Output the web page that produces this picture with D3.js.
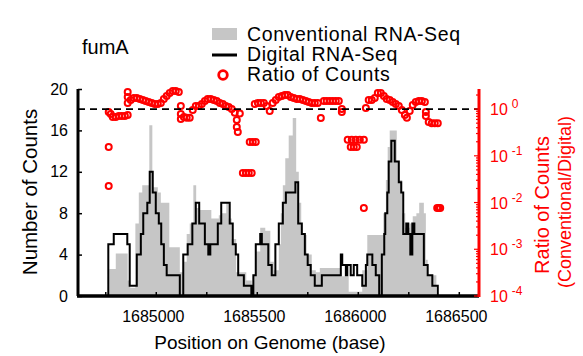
<!DOCTYPE html>
<html>
<head>
<meta charset="utf-8">
<script src="https://cdn.jsdelivr.net/npm/d3@7"></script>
<style>
  html, body { margin: 0; padding: 0; background: #fff; }
  svg { display: block; font-family: "Liberation Sans", Arial, sans-serif; }
</style>
</head>
<body>
<svg id="chart" width="583" height="356"></svg>
<script>
// ---------------- data ----------------
const geneName = "fumA";
const xTickValues = [1685000, 1685500, 1686000, 1686500];
const xMinorTicks = [1684750, 1685000, 1685250, 1685500, 1685750, 1686000, 1686250, 1686500];
const yCountTicks = [0, 4, 8, 12, 16, 20];
const yRatioExponents = [0, -1, -2, -3, -4];

// Conventional RNA-Seq (step histogram): change positions and counts
const convPos = [1684700, 1684770, 1684802, 1684861, 1684874, 1684899, 1684916, 1684933, 1684968, 1684983,
  1685010, 1685025, 1685067, 1685119, 1685139, 1685153, 1685168, 1685186, 1685200, 1685218,
  1685275, 1685312, 1685327, 1685349, 1685361, 1685376, 1685398, 1685448, 1685475, 1685485,
  1685493, 1685517, 1685542, 1685567, 1685584, 1685609, 1685619, 1685629, 1685641, 1685658,
  1685678, 1685695, 1685708, 1685720, 1685747, 1685772, 1685792, 1685812, 1685916, 1685955,
  1686022, 1686047, 1686126, 1686139, 1686148, 1686158, 1686193, 1686205, 1686220, 1686235,
  1686257, 1686272, 1686290, 1686304, 1686327, 1686337, 1686346, 1686389, 1686450];
const convVal = [0, 2.6, 4.1, 1.5, 0.8, 7, 10, 10.7, 16.5, 10.5,
  10, 9, 4.7, 2.3, 3.3, 6, 7, 10.7, 8.5, 8.3,
  7.5, 7.8, 8, 9, 7.5, 5.5, 2.3, 1.5, 1, 2,
  4.3, 6.6, 6.3, 3.3, 2.5, 5, 8, 10.7, 13.3, 15.5,
  17.2, 12, 9, 5.9, 4, 2.5, 2.3, 2.7, 1.9, 0.4,
  2.5, 5.9, 8, 11.2, 14.4, 16, 13, 11.2, 8, 6.6,
  7, 7.7, 8, 9, 8, 3.5, 2, 0, 0];

// Digital RNA-Seq (step line): change positions and counts
const digiPos = [1684700, 1684765, 1684792, 1684859, 1684871, 1684906, 1684926, 1684938, 1684958, 1684970,
  1684985, 1685000, 1685015, 1685027, 1685040, 1685054, 1685119, 1685136, 1685158, 1685181,
  1685198, 1685215, 1685243, 1685260, 1685270, 1685307, 1685324, 1685366, 1685381, 1685396,
  1685408, 1685436, 1685473, 1685483, 1685495, 1685517, 1685525, 1685557, 1685574, 1685592,
  1685609, 1685629, 1685644, 1685691, 1685705, 1685723, 1685738, 1685752, 1685767, 1685787,
  1685822, 1685916, 1685923, 1685941, 1685948, 1685965, 1685980, 1685997, 1686022, 1686040,
  1686047, 1686072, 1686089, 1686106, 1686119, 1686131, 1686136, 1686146, 1686153, 1686166,
  1686183, 1686203, 1686215, 1686225, 1686240, 1686250, 1686260, 1686270, 1686280, 1686327,
  1686346, 1686369, 1686396, 1686450];
const digiVal = [0, 5, 6, 5, 1, 4, 6, 8, 9, 12,
  10, 8, 7, 5, 3, 2, 0, 4, 5, 7,
  9, 7, 5, 4, 5, 7, 9, 7, 5, 4,
  2, 1, 0, 2, 5, 6, 5, 3, 2, 5,
  7, 9, 10, 11, 7, 6, 4, 3, 2, 1,
  2, 4, 3, 2, 3, 2, 3, 2, 1, 3,
  4, 3, 2, 0, 4, 6, 8, 10, 13, 15,
  13, 11, 10, 6, 7, 6, 4, 7, 6, 3,
  2, 1, 0, 0];

// Ratio of counts (Conventional / Digital)
const ratioPos = [1684767, 1684767, 1684767, 1684777, 1684787, 1684802, 1684817, 1684832, 1684847, 1684861,
  1684861, 1684861, 1684861, 1684876, 1684891, 1684906, 1684921, 1684936, 1684950, 1684965,
  1684980, 1684995, 1685010, 1685025, 1685040, 1685054, 1685069, 1685084, 1685099, 1685114,
  1685124, 1685124, 1685124, 1685139, 1685153, 1685168, 1685183, 1685198, 1685213, 1685228,
  1685243, 1685257, 1685272, 1685287, 1685302, 1685317, 1685332, 1685347, 1685361, 1685376,
  1685391, 1685401, 1685401, 1685406, 1685416, 1685431, 1685446, 1685460, 1685475, 1685465,
  1685480, 1685495, 1685490, 1685505, 1685520, 1685535, 1685549, 1685564, 1685579, 1685594,
  1685609, 1685624, 1685639, 1685653, 1685668, 1685683, 1685698, 1685713, 1685728, 1685743,
  1685757, 1685772, 1685787, 1685802, 1685817, 1685832, 1685846, 1685861, 1685876, 1685891,
  1685906, 1685921, 1685921, 1685950, 1685970, 1685990, 1686010, 1686030, 1685965, 1685980,
  1685995, 1686030, 1686040, 1686054, 1686069, 1686084, 1686099, 1686114, 1686129, 1686143,
  1686158, 1686173, 1686188, 1686203, 1686218, 1686233, 1686243, 1686257, 1686272, 1686287,
  1686302, 1686317, 1686332, 1686337, 1686337, 1686351, 1686366, 1686381, 1686396, 1686393,
  1686401, 1686408];
const ratioVal = [0.87, 0.155, 0.0226, 0.79, 0.68, 0.68, 0.71, 0.71, 0.71, 0.75,
  2.32, 1.82, 1.35, 1.57, 1.73, 1.73, 1.64, 1.57, 1.49, 1.42,
  1.35, 1.29, 1.29, 1.35, 1.64, 1.91, 2.21, 2.44, 2.44, 2.32,
  1.16, 0.785, 0.614, 0.68, 0.65, 0.65, 0.96, 1.16, 1.16, 1.29,
  1.49, 1.64, 1.64, 1.57, 1.49, 1.35, 1.29, 1.16, 1.11, 1.0,
  0.83, 0.585, 0.414, 0.324, 0.8, 0.043, 0.043, 0.043, 0.043, 0.198,
  0.198, 0.198, 1.29, 1.35, 1.35, 1.35, 1.16, 0.91, 1.35, 1.57,
  1.82, 1.91, 2.0, 2.0, 1.82, 1.73, 1.64, 1.64, 1.57, 1.49,
  1.42, 1.35, 1.35, 1.35, 0.645, 1.49, 1.49, 1.49, 1.49, 1.49,
  1.49, 1.0, 0.87, 0.22, 0.22, 0.22, 0.22, 0.22, 0.155, 0.155,
  0.155, 0.0076, 1.06, 1.57, 1.57, 1.73, 2.21, 2.21, 1.91, 1.64,
  1.57, 1.42, 1.29, 1.16, 0.96, 0.75, 0.65, 0.91, 1.22, 1.42,
  1.49, 1.49, 1.42, 0.87, 0.71, 0.53, 0.5, 0.5, 0.5, 0.0076,
  0.0076, 0.0076];

const legendLabels = ["Conventional RNA-Seq", "Digital RNA-Seq", "Ratio of Counts"];

// ---------------- chart ----------------
const svg = d3.select("#chart");
const red = "#ff0000";
const gray = "#c6c6c6";
const pLeft = 78, pRight = 479, pTop = 89, pBottom = 296;

const x = d3.scaleLinear().domain([1684615, 1686600]).range([pLeft, pRight]);
const y = d3.scaleLinear().domain([0, 20]).range([pBottom, pTop]);
const yr = d3.scaleLog().domain([1e-4, Math.pow(10, 0.43)]).range([pBottom, pTop]);

svg.append("rect").attr("width", 583).attr("height", 356).attr("fill", "#fff");

const conv = convPos.map((p, i) => ({p, v: convVal[i]}));
const digi = digiPos.map((p, i) => ({p, v: digiVal[i]}));
const ratio = ratioPos.map((p, i) => ({p, r: ratioVal[i]}));

// gray histogram
svg.append("path").datum(conv)
  .attr("fill", gray)
  .attr("d", d3.area().curve(d3.curveStepAfter)
    .x(d => x(d.p)).y0(y(0)).y1(d => y(d.v)));

// black step line
svg.append("path").datum(digi)
  .attr("fill", "none").attr("stroke", "#000").attr("stroke-width", 2)
  .attr("stroke-linejoin", "miter")
  .attr("d", d3.line().curve(d3.curveStepAfter).x(d => x(d.p)).y(d => y(d.v)));

// red ratio circles
svg.append("g").selectAll("circle").data(ratio).join("circle")
  .attr("cx", d => x(d.p)).attr("cy", d => yr(d.r)).attr("r", 3)
  .attr("fill", "none").attr("stroke", red).attr("stroke-width", 2);

// dashed reference line at ratio 1
svg.append("line")
  .attr("x1", pLeft).attr("x2", pRight).attr("y1", yr(1)).attr("y2", yr(1))
  .attr("stroke", "#000").attr("stroke-width", 1.6).attr("stroke-dasharray", "7,5");

// left axis
const gL = svg.append("g").attr("transform", `translate(${pLeft},0)`)
  .call(d3.axisLeft(y).tickValues(yCountTicks).tickSize(-4).tickPadding(10).tickFormat(d3.format("d")));
gL.select(".domain").attr("stroke", "#000").attr("stroke-width", 3).attr("d", `M0,${pTop}V${pBottom}`);
gL.selectAll(".tick line").attr("stroke", "#000").attr("stroke-width", 1.5);
gL.selectAll(".tick text").attr("font-size", 16).attr("fill", "#000").attr("font-family", "Liberation Sans, Arial, sans-serif");

// bottom axis
const gB = svg.append("g").attr("transform", `translate(0,${pBottom})`)
  .call(d3.axisBottom(x).tickValues(xMinorTicks).tickSize(-4).tickFormat(""));
gB.select(".domain").attr("stroke", "#000").attr("stroke-width", 3.5).attr("d", `M${pLeft - 1},0H${pRight}`);
gB.selectAll(".tick line").attr("stroke", "#000").attr("stroke-width", 1.5);
const gBL = svg.append("g").attr("transform", `translate(0,${pBottom})`)
  .call(d3.axisBottom(x).tickValues(xTickValues).tickSize(0).tickPadding(15).tickFormat(d3.format("d")));
gBL.select(".domain").remove();
gBL.selectAll(".tick text").attr("font-size", 16).attr("fill", "#000").attr("dx", -3)
  .attr("font-family", "Liberation Sans, Arial, sans-serif");

// right axis (log)
const gR = svg.append("g").attr("transform", `translate(${pRight},0)`);
const minorVals = [];
for (let e = -4; e <= 0; e++) for (let m = 1; m <= 9; m++) {
  const v = m * Math.pow(10, e);
  if (v <= yr.domain()[1]) minorVals.push(v);
}
gR.selectAll("line.mt").data(minorVals).join("line")
  .attr("x1", 0).attr("x2", d => Math.abs(Math.log10(d) - Math.round(Math.log10(d))) < 1e-9 ? -5 : -3)
  .attr("y1", d => yr(d)).attr("y2", d => yr(d))
  .attr("stroke", red).attr("stroke-width", 1.2);
gR.append("line").attr("x1", 0).attr("x2", 0).attr("y1", pTop).attr("y2", pBottom + 1)
  .attr("stroke", red).attr("stroke-width", 3);
const lab = gR.selectAll("text.rl").data(yRatioExponents).join("text")
  .attr("x", 11).attr("y", d => yr(Math.pow(10, d)) + 6)
  .attr("fill", red).attr("font-size", 16);
lab.append("tspan").text("10");
lab.append("tspan").attr("dx", 4).attr("dy", -7).attr("font-size", 12).text(d => d);

// axis titles
svg.append("text").attr("transform", "translate(37,192) rotate(-90)")
  .attr("text-anchor", "middle").attr("font-size", 20.5).attr("fill", "#000").text("Number of Counts");
svg.append("text").attr("x", 270).attr("y", 349)
  .attr("text-anchor", "middle").attr("font-size", 19).attr("fill", "#000").text("Position on Genome (base)");
svg.append("text").attr("transform", "translate(549,205) rotate(-90)")
  .attr("text-anchor", "middle").attr("font-size", 20).attr("fill", red).text("Ratio of Counts");
svg.append("text").attr("transform", "translate(571,202) rotate(-90)")
  .attr("text-anchor", "middle").attr("font-size", 18).attr("fill", red).text("(Conventional/Digital)");

// gene name
svg.append("text").attr("x", 82).attr("y", 54).attr("font-size", 20).attr("fill", "#000").text(geneName);

// legend
const lg = svg.append("g");
lg.append("rect").attr("x", 212).attr("y", 28).attr("width", 25).attr("height", 12).attr("fill", gray);
lg.append("line").attr("x1", 212).attr("x2", 237).attr("y1", 55).attr("y2", 55)
  .attr("stroke", "#000").attr("stroke-width", 3);
lg.append("circle").attr("cx", 223).attr("cy", 75).attr("r", 4.3)
  .attr("fill", "none").attr("stroke", red).attr("stroke-width", 2.8);
lg.selectAll("text").data(legendLabels).join("text")
  .attr("x", 247).attr("y", (d, i) => 41 + i * 20)
  .attr("font-size", 19.5).attr("letter-spacing", 0.6).attr("fill", "#000").text(d => d);
</script>
</body>
</html>
